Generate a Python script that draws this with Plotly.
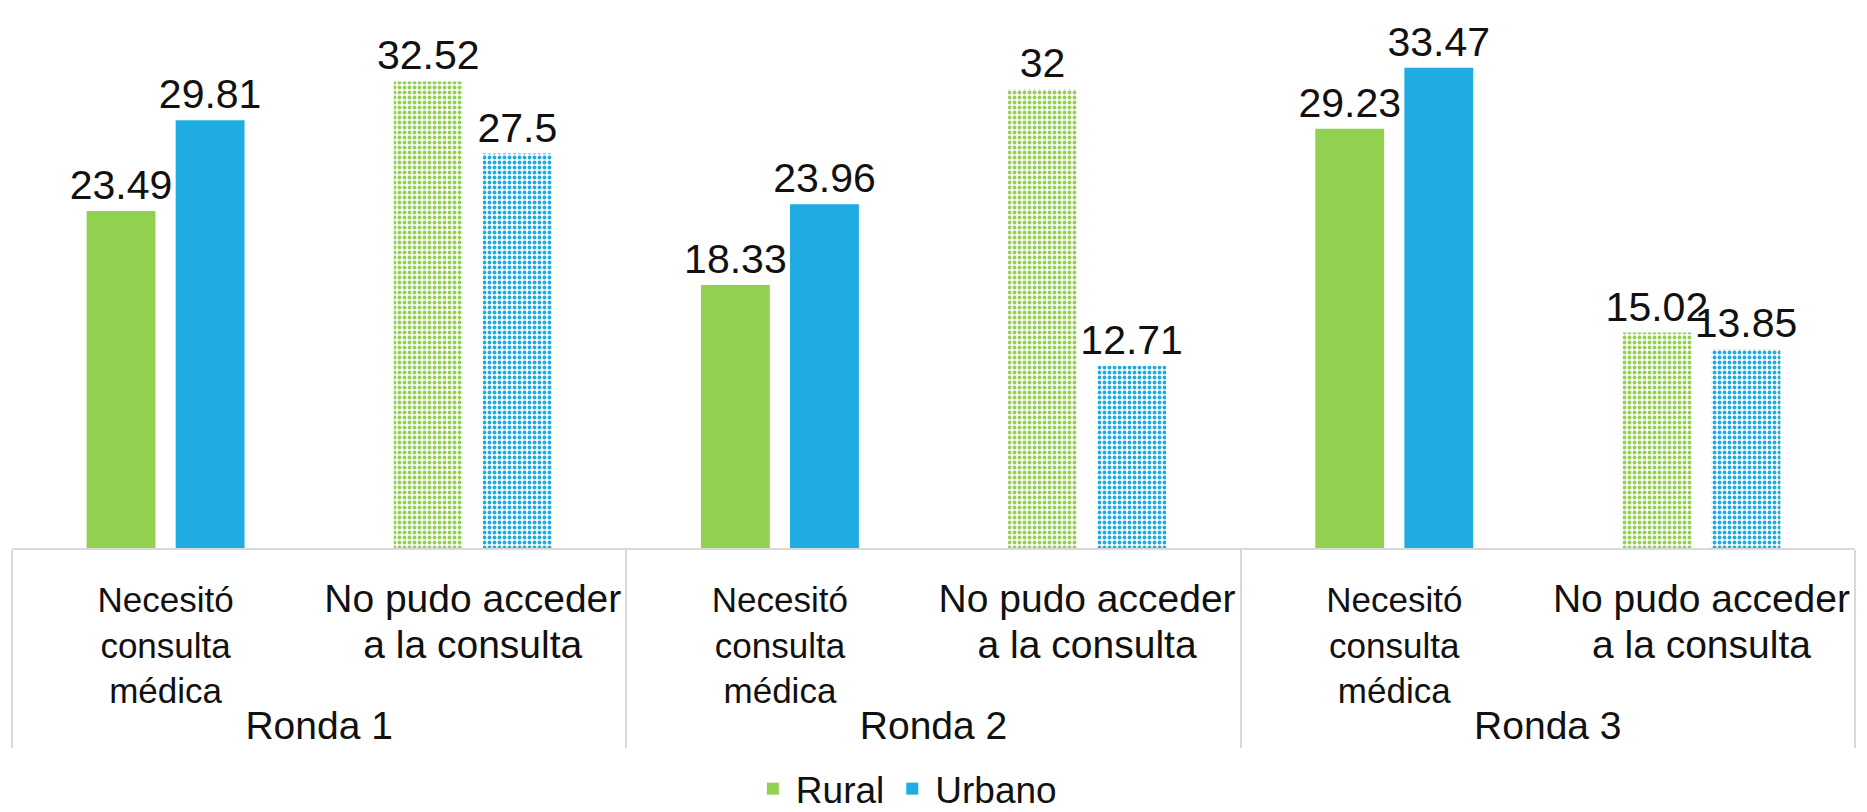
import plotly.graph_objects as go

rondas = ["Ronda 1", "Ronda 1", "Ronda 2", "Ronda 2", "Ronda 3", "Ronda 3"]
indicadores = [
    "Necesitó<br>consulta<br>médica",
    "No pudo acceder<br>a la consulta",
] * 3
rural = [23.49, 32.52, 18.33, 32, 29.23, 15.02]
urbano = [29.81, 27.5, 23.96, 12.71, 33.47, 13.85]

GREEN = "#92D050"
BLUE = "#1EACE2"

# first indicator per round is drawn smaller, second one is dotted
tick_inner = [
    f"<span style='font-size:{35 if i % 2 == 0 else 39}px'>{t}</span>"
    for i, t in enumerate(indicadores)
]
# nested <sub> only nudges the round label a little lower
tick_outer = [f"<sub><sub><span style='font-size:39px'>{r}</span></sub></sub>" for r in rondas]
shapes = ["" if i % 2 == 0 else "." for i in range(len(indicadores))]
x = [tick_outer, tick_inner]

fig = go.Figure()
for name, vals, color in [("Rural", rural, GREEN), ("Urbano", urbano, BLUE)]:
    fig.add_trace(go.Bar(
        x=x,
        y=vals,
        name=name,
        text=[f"{v:g}" for v in vals],
        textposition="outside",
        textfont={"size": 41, "color": "#111111"},
        constraintext="none",
        cliponaxis=False,
        marker={
            "color": color,
            "line": {"width": 0},
            "pattern": {
                "shape": shapes,
                "fgcolor": color,
                "bgcolor": "white",
                "size": 5,
                "solidity": 0.45,
                "fillmode": "replace",
            },
        },
    ))

fig.update_layout(
    width=1867,
    height=812,
    paper_bgcolor="white",
    plot_bgcolor="white",
    barmode="group",
    bargap=0.42,
    bargroupgap=0.227,
    font={"family": "Liberation Sans, Arial, sans-serif", "size": 40, "color": "#111111"},
    margin={"l": 12, "r": 12, "t": 0, "b": 264, "autoexpand": False},
    showlegend=True,
    legend={
        "orientation": "h",
        "x": 0.485,
        "xanchor": "center",
        "y": -0.44,
        "yanchor": "middle",
        "font": {"size": 37},
        "itemwidth": 36,
    },
)
fig.update_xaxes(
    type="multicategory",
    automargin=False,
    tickangle=0,
    ticklabelstandoff=20,
    showline=True,
    linecolor="#D9D9D9",
    linewidth=2,
    ticks="",
    showdividers=True,
    dividercolor="#D9D9D9",
    dividerwidth=2,
    tickfont={"size": 35},
)
fig.update_yaxes(range=[0, 38.2], visible=False, showgrid=False)

fig.write_html(
    "out.html",
    config={"displayModeBar": False},
    post_script="document.body.style.margin = '0';",
)
